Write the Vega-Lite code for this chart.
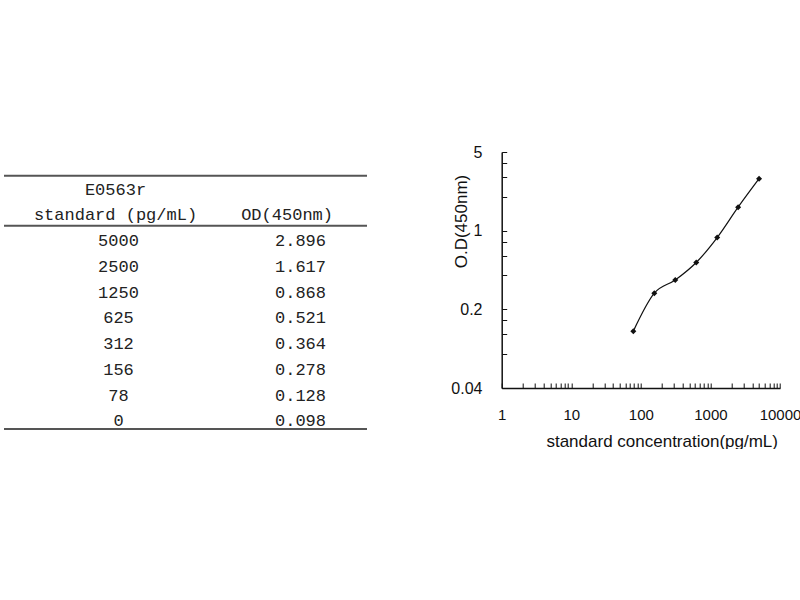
{
  "$schema": "https://vega.github.io/schema/vega-lite/v6.json",
  "background": "white",
  "padding": {"left": 3, "top": 144, "right": 0, "bottom": 0},
  "config": {
    "view": {"stroke": null},
    "font": "Liberation Sans"
  },
  "datasets": {
    "standards": [
      {"conc": 5000, "od": 2.896},
      {"conc": 2500, "od": 1.617},
      {"conc": 1250, "od": 0.868},
      {"conc": 625, "od": 0.521},
      {"conc": 312, "od": 0.364},
      {"conc": 156, "od": 0.278},
      {"conc": 78, "od": 0.128},
      {"conc": 0, "od": 0.098}
    ],
    "header": [
      {"line": "E0563r", "col": "conc", "label": "E0563r"},
      {"line": "standard (pg/mL)", "col": "conc", "label": "standard (pg/mL)"},
      {"line": "standard (pg/mL)", "col": "od", "label": "OD(450nm)"}
    ]
  },
  "bounds": "flush",
  "spacing": 134.7,
  "hconcat": [
    {
      "width": 363,
      "height": 280,
      "layer": [
        {
          "data": {"name": "standards"},
          "mark": {"type": "text", "font": "Liberation Mono", "fontSize": 17, "align": "center", "baseline": "middle", "color": "#222"},
          "encoding": {
            "x": {"datum": "conc", "type": "nominal", "scale": {"type": "point", "domain": ["conc", "od"], "range": [114.5, 322], "padding": 0}, "axis": null},
            "y": {"field": "conc", "type": "ordinal", "scale": {"type": "point", "domain": ["E0563r", "standard (pg/mL)", 5000, 2500, 1250, 625, 312, 156, 78, 0], "range": [37.7, 269.4], "padding": 0}, "axis": null},
            "text": {"field": "conc", "type": "nominal"}
          }
        },
        {
          "data": {"name": "standards"},
          "mark": {"type": "text", "font": "Liberation Mono", "fontSize": 17, "align": "right", "baseline": "middle", "color": "#222"},
          "encoding": {
            "x": {"datum": "od", "type": "nominal"},
            "y": {"field": "conc", "type": "ordinal"},
            "text": {"field": "od", "type": "quantitative", "format": ".3f"}
          }
        },
        {
          "data": {"name": "header"},
          "transform": [{"filter": "datum.col == 'conc'"}],
          "mark": {"type": "text", "font": "Liberation Mono", "fontSize": 17, "align": "center", "baseline": "middle", "color": "#222", "dx": -3},
          "encoding": {
            "x": {"field": "col", "type": "nominal"},
            "y": {"field": "line", "type": "ordinal"},
            "text": {"field": "label"}
          }
        },
        {
          "data": {"name": "header"},
          "transform": [{"filter": "datum.col == 'od'"}],
          "mark": {"type": "text", "font": "Liberation Mono", "fontSize": 17, "align": "right", "baseline": "middle", "color": "#222", "dx": 7},
          "encoding": {
            "x": {"field": "col", "type": "nominal"},
            "y": {"field": "line", "type": "ordinal"},
            "text": {"field": "label"}
          }
        },
        {
          "data": {"name": "header"},
          "transform": [{"filter": "datum.line == 'E0563r'"}],
          "mark": {"type": "rule", "color": "#555", "strokeWidth": 2, "yOffset": -14},
          "encoding": {"y": {"field": "line", "type": "ordinal"}}
        },
        {
          "data": {"name": "header"},
          "transform": [{"filter": "datum.col == 'od'"}],
          "mark": {"type": "rule", "color": "#555", "strokeWidth": 2, "yOffset": 10.3},
          "encoding": {"y": {"field": "line", "type": "ordinal"}}
        },
        {
          "data": {"name": "standards"},
          "transform": [{"filter": "datum.conc == 0"}],
          "mark": {"type": "rule", "color": "#555", "strokeWidth": 2, "yOffset": 7.6},
          "encoding": {"y": {"field": "conc", "type": "ordinal"}}
        }
      ]
    },
    {
      "width": 278.3,
      "height": 236,
      "data": {"name": "standards"},
      "transform": [{"filter": "datum.conc > 0"}],
      "encoding": {
        "x": {
          "field": "conc",
          "type": "quantitative",
          "scale": {"type": "log", "domain": [1, 10000], "nice": false},
          "axis": {
            "values": [1, 2, 3, 4, 5, 6, 7, 8, 9, 10, 20, 30, 40, 50, 60, 70, 80, 90, 100, 200, 300, 400, 500, 600, 700, 800, 900, 1000, 2000, 3000, 4000, 5000, 6000, 7000, 8000, 9000, 10000],
            "labelExpr": "indexof([1, 10, 100, 1000, 10000], datum.value) >= 0 ? format(datum.value, 'd') : ''",
            "labelOverlap": false,
            "labelFlush": false,
            "labelFont": "Liberation Sans",
            "labelFontSize": 15,
            "labelColor": "#111",
            "labelBaseline": "middle",
            "labelPadding": 31,
            "tickSize": -5,
            "tickColor": "#111",
            "domainColor": "#111",
            "domainWidth": 1.5,
            "grid": false,
            "title": "standard concentration(pg/mL)",
            "titleFont": "Liberation Sans",
            "titleFontSize": 17,
            "titleFontWeight": "normal",
            "titleColor": "#111",
            "titleX": 160,
            "titleY": 53,
            "titleBaseline": "middle"
          }
        },
        "y": {
          "field": "od",
          "type": "quantitative",
          "scale": {"type": "log", "base": 5, "domain": [0.04, 5], "nice": false, "zero": false},
          "axis": {
            "values": [0.04, 0.08, 0.12, 0.16, 0.2, 0.4, 0.6, 0.8, 1, 2, 3, 4, 5],
            "labelExpr": "indexof([0.04, 0.2, 1, 5], datum.value) >= 0 ? format(datum.value, '~g') : ''",
            "labelOverlap": false,
            "labelFlush": false,
            "labelFont": "Liberation Sans",
            "labelFontSize": 16,
            "labelColor": "#111",
            "labelPadding": 24.7,
            "tickSize": -5,
            "tickColor": "#111",
            "domainColor": "#111",
            "domainWidth": 1.5,
            "grid": false,
            "title": "O.D(450nm)",
            "titleFont": "Liberation Sans",
            "titleFontSize": 17,
            "titleFontWeight": "normal",
            "titleColor": "#111",
            "titleAngle": -90,
            "titleX": -40,
            "titleY": 69,
            "titleAlign": "center",
            "titleBaseline": "middle"
          }
        }
      },
      "layer": [
        {
          "mark": {"type": "line", "color": "#111", "strokeWidth": 1.2, "interpolate": "monotone"}
        },
        {
          "mark": {"type": "point", "shape": "diamond", "filled": true, "size": 36, "color": "#111", "opacity": 1}
        }
      ]
    }
  ]
}
